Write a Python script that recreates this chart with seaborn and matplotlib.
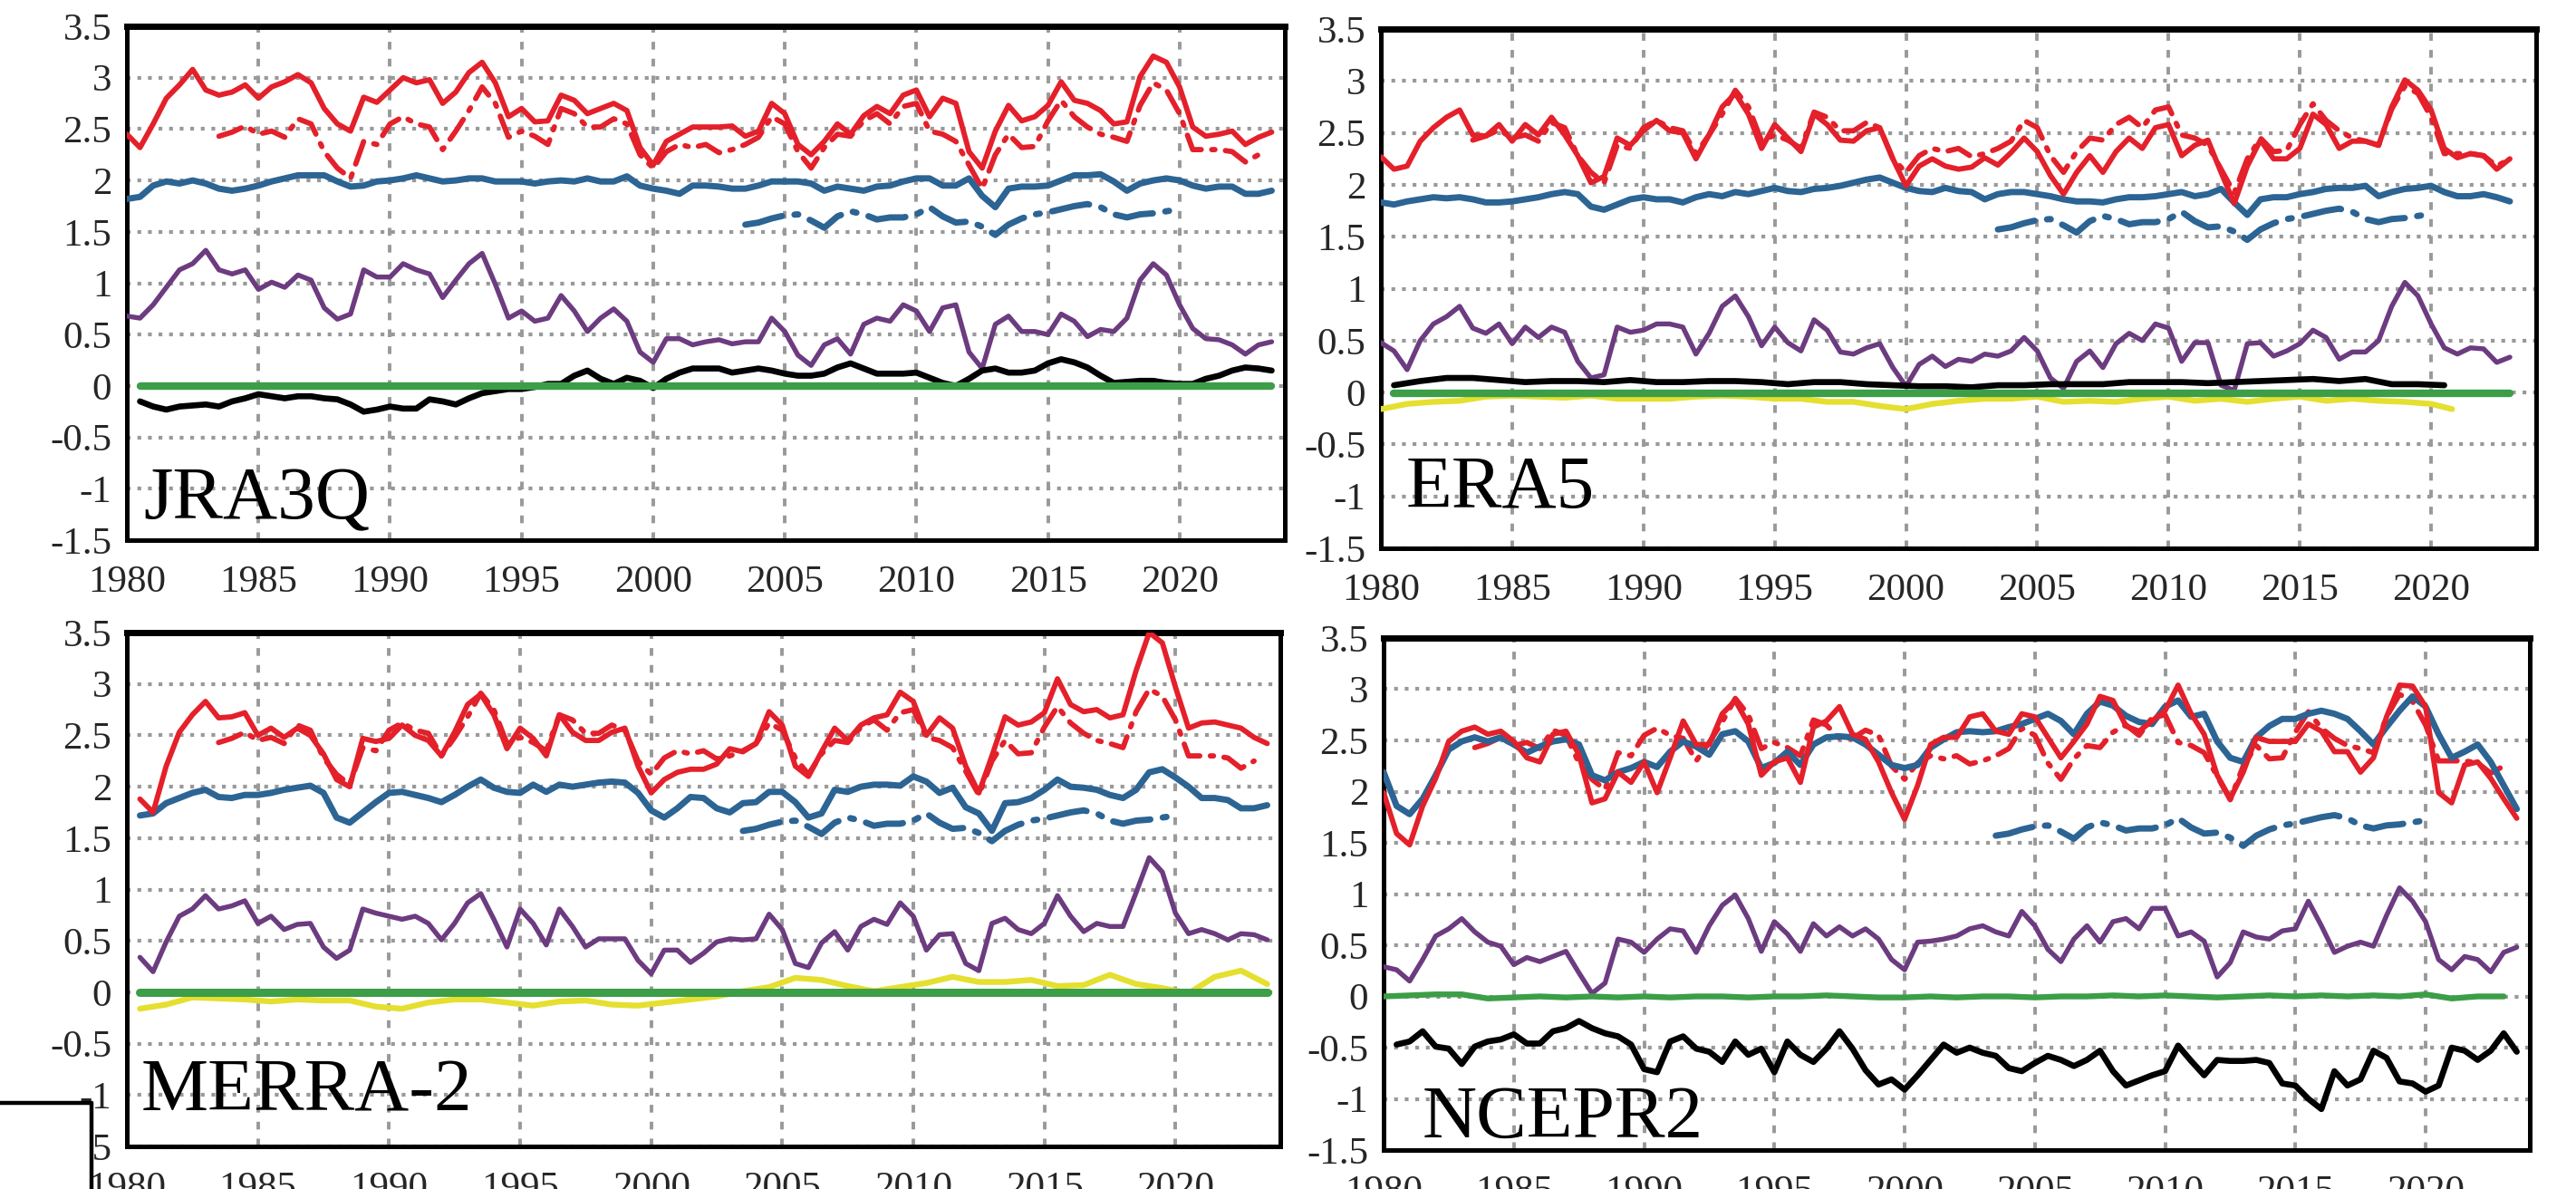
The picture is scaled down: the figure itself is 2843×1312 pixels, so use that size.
import numpy as np
import matplotlib
matplotlib.use("Agg")
import matplotlib.pyplot as plt
import seaborn as sns
from matplotlib.lines import Line2D
from matplotlib.patches import Rectangle

# ---------------------------------------------------------------- data
panel_names = ["JRA3Q", "ERA5", "MERRA-2", "NCEPR2"]
x_ticks = [1980, 1985, 1990, 1995, 2000, 2005, 2010, 2015, 2020]
y_ticks = [-1.5, -1, -0.5, 0, 0.5, 1, 1.5, 2, 2.5, 3, 3.5]

# shared observational references (half-yearly samples)
obs_red_start = 1983.5
obs_red = [2.43, 2.47, 2.53, 2.45, 2.48, 2.42, 2.60, 2.55, 2.28, 2.12,
           2.02, 2.38, 2.35, 2.55, 2.62, 2.55, 2.52, 2.30, 2.48, 2.68,
           2.91, 2.75, 2.42, 2.48, 2.43, 2.35, 2.70, 2.65, 2.52, 2.52,
           2.60, 2.55, 2.25, 2.12, 2.28, 2.35, 2.32, 2.35, 2.27, 2.30,
           2.35, 2.42, 2.62, 2.55, 2.28, 2.12, 2.32, 2.45, 2.43, 2.58,
           2.65, 2.55, 2.72, 2.75, 2.48, 2.45, 2.38, 2.15, 1.92, 2.25,
           2.45, 2.32, 2.33, 2.58, 2.78, 2.62, 2.52, 2.45, 2.42, 2.38,
           2.73, 2.95, 2.88, 2.65, 2.30, 2.30, 2.30, 2.28, 2.18, 2.25]
obs_blue_start = 2003.5
obs_blue = [1.57, 1.59, 1.63, 1.66, 1.67, 1.61, 1.54, 1.65, 1.70, 1.67,
            1.62, 1.64, 1.64, 1.67, 1.74, 1.65, 1.59, 1.60, 1.55, 1.47,
            1.57, 1.63, 1.67, 1.69, 1.72, 1.75, 1.77, 1.74, 1.67, 1.64,
            1.67, 1.68, 1.70, 1.72]

# ---- JRA3Q (half-yearly)
jra_start = 1980.0
jra_red = [2.45, 2.32, 2.55, 2.80, 2.93, 3.08, 2.88, 2.83, 2.86, 2.93,
           2.80, 2.91, 2.96, 3.03, 2.95, 2.70, 2.55, 2.48, 2.81, 2.76,
           2.88, 3.00, 2.95, 2.98, 2.75, 2.86, 3.05, 3.15, 2.95, 2.62,
           2.70, 2.57, 2.58, 2.83, 2.78, 2.65, 2.70, 2.75, 2.68, 2.32,
           2.15, 2.38, 2.45, 2.52, 2.52, 2.52, 2.53, 2.43, 2.48, 2.75,
           2.65, 2.35, 2.25, 2.38, 2.55, 2.45, 2.63, 2.72, 2.65, 2.83,
           2.88, 2.62, 2.80, 2.75, 2.28, 2.12, 2.48, 2.73, 2.58, 2.62,
           2.73, 2.96, 2.78, 2.75, 2.68, 2.55, 2.57, 3.01, 3.21, 3.15,
           2.91, 2.52, 2.43, 2.45, 2.48, 2.35, 2.42, 2.47]
jra_blue = [1.82, 1.84, 1.95, 1.99, 1.97, 2.00, 1.97, 1.92, 1.90, 1.92,
            1.95, 1.99, 2.02, 2.05, 2.05, 2.05, 1.99, 1.94, 1.95, 1.99,
            2.00, 2.02, 2.05, 2.02, 1.99, 2.00, 2.02, 2.02, 1.99, 1.99,
            1.99, 1.97, 1.99, 2.00, 1.99, 2.02, 1.99, 1.99, 2.04, 1.95,
            1.92, 1.90, 1.87, 1.95, 1.95, 1.94, 1.92, 1.92, 1.95, 1.99,
            1.99, 1.99, 1.97, 1.90, 1.94, 1.92, 1.90, 1.94, 1.95, 1.99,
            2.02, 2.02, 1.95, 1.95, 2.02, 1.85, 1.74, 1.92, 1.94, 1.94,
            1.95, 2.00, 2.05, 2.05, 2.06, 1.99, 1.90, 1.97, 2.00, 2.02,
            2.00, 1.95, 1.92, 1.94, 1.94, 1.87, 1.87, 1.90]
jra_purple = [0.68, 0.66, 0.79, 0.96, 1.13, 1.19, 1.32, 1.13, 1.09, 1.13,
              0.94, 1.01, 0.96, 1.08, 1.03, 0.76, 0.65, 0.70, 1.13, 1.06,
              1.06, 1.19, 1.13, 1.09, 0.86, 1.03, 1.19, 1.29, 0.99, 0.66,
              0.73, 0.63, 0.66, 0.88, 0.73, 0.53, 0.66, 0.75, 0.63, 0.33,
              0.23, 0.46, 0.46, 0.40, 0.43, 0.45, 0.41, 0.43, 0.43, 0.66,
              0.53, 0.30, 0.20, 0.40, 0.46, 0.31, 0.60, 0.66, 0.63, 0.79,
              0.73, 0.53, 0.76, 0.79, 0.33, 0.17, 0.60, 0.68, 0.53, 0.53,
              0.50, 0.70, 0.63, 0.48, 0.55, 0.53, 0.66, 1.03, 1.19, 1.08,
              0.79, 0.56, 0.46, 0.45, 0.40, 0.31, 0.40, 0.43]
jra_black_start = 1980.5
jra_black = [-0.15, -0.20, -0.23, -0.20, -0.19, -0.18, -0.20, -0.15, -0.12,
             -0.08, -0.10, -0.12, -0.10, -0.10, -0.12, -0.13, -0.18, -0.25, -0.23,
             -0.20, -0.22, -0.22, -0.13, -0.15, -0.18, -0.12, -0.07, -0.05, -0.03,
             -0.03, -0.01, 0.02, 0.02, 0.10, 0.15, 0.07, 0.02, 0.08, 0.05,
             -0.02, 0.07, 0.13, 0.17, 0.17, 0.17, 0.13, 0.15, 0.17, 0.15,
             0.12, 0.10, 0.10, 0.12, 0.18, 0.22, 0.17, 0.12, 0.12, 0.12,
             0.13, 0.08, 0.03, 0.00, 0.07, 0.15, 0.17, 0.13, 0.13, 0.15,
             0.22, 0.26, 0.23, 0.18, 0.10, 0.03, 0.04, 0.05, 0.05, 0.03,
             0.02, 0.02, 0.07, 0.10, 0.15, 0.18, 0.17, 0.15]
jra_green_years = [1980.5, 1990.0, 2000.0, 2010.0, 2023.5]
jra_green = [0.0, 0.0, 0.0, 0.0, 0.0]

# ---- ERA5 (half-yearly)
era_start = 1980.0
era_red = [2.27, 2.15, 2.18, 2.42, 2.55, 2.65, 2.72, 2.48, 2.47, 2.58,
           2.42, 2.58, 2.48, 2.65, 2.48, 2.28, 2.02, 2.08, 2.45, 2.38,
           2.52, 2.62, 2.52, 2.50, 2.25, 2.48, 2.75, 2.88, 2.68, 2.35,
           2.58, 2.45, 2.32, 2.68, 2.58, 2.43, 2.42, 2.52, 2.55, 2.25,
           1.99, 2.18, 2.25, 2.18, 2.15, 2.17, 2.26, 2.19, 2.31, 2.45,
           2.32, 2.09, 1.91, 2.12, 2.28, 2.12, 2.32, 2.45, 2.35, 2.55,
           2.58, 2.28, 2.38, 2.43, 2.12, 1.82, 2.18, 2.43, 2.25, 2.25,
           2.35, 2.68, 2.58, 2.35, 2.42, 2.42, 2.38, 2.75, 3.01, 2.91,
           2.72, 2.35, 2.26, 2.30, 2.28, 2.15, 2.25]
era_blue = [1.83, 1.81, 1.84, 1.86, 1.88, 1.87, 1.88, 1.86, 1.83, 1.83,
            1.84, 1.86, 1.88, 1.91, 1.93, 1.91, 1.79, 1.76, 1.81, 1.86,
            1.88, 1.86, 1.86, 1.83, 1.88, 1.91, 1.89, 1.93, 1.91, 1.94,
            1.97, 1.94, 1.93, 1.96, 1.97, 1.99, 2.02, 2.05, 2.07, 2.02,
            1.97, 1.94, 1.93, 1.97, 1.94, 1.93, 1.86, 1.91, 1.93, 1.93,
            1.91, 1.89, 1.86, 1.84, 1.84, 1.83, 1.86, 1.88, 1.88, 1.89,
            1.91, 1.93, 1.89, 1.91, 1.96, 1.83, 1.71, 1.86, 1.88, 1.88,
            1.91, 1.93, 1.96, 1.97, 1.97, 1.99, 1.89, 1.93, 1.96, 1.97,
            1.99, 1.93, 1.89, 1.89, 1.91, 1.88, 1.84]
era_purple = [0.48, 0.40, 0.22, 0.50, 0.66, 0.73, 0.83, 0.62, 0.57, 0.66,
              0.47, 0.63, 0.53, 0.63, 0.58, 0.30, 0.14, 0.17, 0.63, 0.58,
              0.60, 0.66, 0.66, 0.63, 0.37, 0.57, 0.83, 0.93, 0.73, 0.45,
              0.63, 0.48, 0.40, 0.70, 0.60, 0.39, 0.37, 0.43, 0.47, 0.24,
              0.06, 0.27, 0.35, 0.25, 0.32, 0.30, 0.37, 0.35, 0.40, 0.53,
              0.40, 0.14, 0.04, 0.30, 0.40, 0.24, 0.47, 0.57, 0.50, 0.66,
              0.62, 0.30, 0.48, 0.48, 0.07, 0.02, 0.47, 0.48, 0.35, 0.40,
              0.47, 0.60, 0.53, 0.32, 0.39, 0.39, 0.50, 0.83, 1.06, 0.93,
              0.66, 0.43, 0.37, 0.43, 0.42, 0.29, 0.34]
era_black_start = 1980.5          # yearly
era_black = [0.07, 0.11, 0.14, 0.14, 0.12, 0.10, 0.11, 0.11, 0.10, 0.12,
             0.10, 0.10, 0.11, 0.11, 0.10, 0.08, 0.10, 0.10, 0.08, 0.07,
             0.06, 0.06, 0.05, 0.07, 0.07, 0.08, 0.08, 0.08, 0.10, 0.10,
             0.10, 0.09, 0.10, 0.11, 0.12, 0.13, 0.11, 0.13, 0.08, 0.08,
             0.07]
era_yellow_years = [1980, 1981, 1982, 1983, 1984, 1985, 1986, 1987, 1988, 1989,
                    1990, 1991, 1992, 1993, 1994, 1995, 1996, 1997, 1998, 1999,
                    2000, 2001, 2002, 2003, 2004, 2005, 2006, 2007, 2008, 2009,
                    2010, 2011, 2012, 2013, 2014, 2015, 2016, 2017, 2018, 2019,
                    2020, 2020.8]
era_yellow = [-0.16, -0.11, -0.09, -0.08, -0.04, -0.03, -0.04, -0.05, -0.03, -0.06,
              -0.06, -0.06, -0.04, -0.03, -0.04, -0.06, -0.06, -0.09, -0.09, -0.13,
              -0.16, -0.11, -0.08, -0.06, -0.06, -0.04, -0.09, -0.08, -0.09, -0.06,
              -0.04, -0.08, -0.06, -0.09, -0.06, -0.04, -0.08, -0.06, -0.08, -0.09,
              -0.11, -0.16]
era_green_years = [1980.5, 1990.0, 2000.0, 2010.0, 2023.0]
era_green = [-0.01, -0.01, -0.01, -0.01, -0.01]

# ---- MERRA-2 (half-yearly)
mer_start = 1980.5
mer_red = [1.88, 1.75, 2.20, 2.53, 2.70, 2.83, 2.67, 2.68, 2.72,
           2.50, 2.57, 2.48, 2.57, 2.50, 2.32, 2.07, 2.00, 2.47, 2.44,
           2.47, 2.60, 2.50, 2.45, 2.30, 2.53, 2.80, 2.90, 2.70, 2.37,
           2.57, 2.47, 2.30, 2.70, 2.53, 2.45, 2.45, 2.53, 2.57, 2.20,
           1.94, 2.07, 2.14, 2.17, 2.17, 2.22, 2.37, 2.34, 2.42, 2.73,
           2.60, 2.20, 2.10, 2.34, 2.57, 2.45, 2.60, 2.67, 2.70, 2.92,
           2.83, 2.50, 2.67, 2.57, 2.20, 1.94, 2.30, 2.68, 2.60, 2.63,
           2.72, 3.05, 2.80, 2.73, 2.75, 2.67, 2.70, 3.13, 3.50, 3.40,
           2.97, 2.57, 2.62, 2.63, 2.60, 2.57, 2.48, 2.42]
mer_blue = [1.72, 1.74, 1.84, 1.89, 1.94, 1.97, 1.90, 1.89, 1.92,
            1.92, 1.94, 1.97, 1.99, 2.01, 1.94, 1.70, 1.65, 1.75, 1.85,
            1.94, 1.95, 1.92, 1.89, 1.85, 1.92, 2.00, 2.07, 1.99, 1.95,
            1.94, 2.02, 1.95, 2.02, 2.00, 2.02, 2.04, 2.05, 2.04, 1.94,
            1.77, 1.70, 1.79, 1.90, 1.89, 1.79, 1.75, 1.84, 1.85, 1.95,
            1.95, 1.85, 1.70, 1.74, 1.97, 1.95, 2.00, 2.02, 2.02, 2.01,
            2.10, 2.05, 1.94, 1.99, 1.80, 1.74, 1.57, 1.84, 1.85, 1.89,
            1.97, 2.07, 2.00, 1.99, 1.97, 1.92, 1.89, 1.97, 2.14, 2.17,
            2.09, 2.00, 1.89, 1.89, 1.87, 1.79, 1.79, 1.82]
mer_purple = [0.34, 0.20, 0.49, 0.74, 0.81, 0.94, 0.81, 0.84, 0.89,
              0.67, 0.74, 0.61, 0.66, 0.67, 0.44, 0.33, 0.41, 0.81, 0.77,
              0.74, 0.71, 0.74, 0.67, 0.51, 0.67, 0.87, 0.96, 0.71, 0.44,
              0.81, 0.67, 0.46, 0.81, 0.64, 0.44, 0.52, 0.52, 0.52, 0.31,
              0.18, 0.41, 0.41, 0.29, 0.38, 0.49, 0.52, 0.51, 0.52, 0.76,
              0.61, 0.28, 0.24, 0.48, 0.59, 0.41, 0.64, 0.71, 0.66, 0.87,
              0.74, 0.41, 0.56, 0.57, 0.28, 0.21, 0.67, 0.72, 0.61, 0.57,
              0.67, 0.94, 0.74, 0.59, 0.67, 0.64, 0.64, 0.97, 1.31, 1.17,
              0.77, 0.57, 0.61, 0.57, 0.51, 0.57, 0.56, 0.51]
mer_yellow_start = 1980.5         # yearly
mer_yellow = [-0.16, -0.12, -0.05, -0.06, -0.07, -0.09, -0.07, -0.08, -0.08, -0.14,
              -0.16, -0.10, -0.07, -0.07, -0.10, -0.13, -0.09, -0.08, -0.12, -0.13,
              -0.10, -0.07, -0.04, 0.01, 0.05, 0.14, 0.12, 0.06, 0.01, 0.05,
              0.09, 0.15, 0.10, 0.10, 0.12, 0.06, 0.07, 0.17, 0.08, 0.04,
              -0.01, 0.15, 0.21, 0.08]
mer_black_years = [1980.5, 1990.0, 2000.0, 2010.0, 2023.5]
mer_black = [0.0, 0.0, 0.0, 0.0, 0.0]
mer_green_years = [1980.5, 1990.0, 2000.0, 2010.0, 2023.5]
mer_green = [0.0, 0.0, 0.0, 0.0, 0.0]

# ---- NCEPR2 (half-yearly)
ncep_start = 1980.0
ncep_red = [1.99, 1.59, 1.48, 1.86, 2.13, 2.49, 2.59, 2.63, 2.56, 2.59,
            2.49, 2.33, 2.29, 2.56, 2.59, 2.36, 1.89, 1.93, 2.19, 2.09,
            2.29, 1.99, 2.33, 2.69, 2.46, 2.46, 2.76, 2.89, 2.66, 2.16,
            2.29, 2.33, 2.09, 2.63, 2.69, 2.83, 2.56, 2.51, 2.29, 1.99,
            1.73, 2.06, 2.46, 2.53, 2.53, 2.73, 2.76, 2.59, 2.56, 2.76,
            2.73, 2.53, 2.33, 2.49, 2.66, 2.93, 2.89, 2.64, 2.59, 2.69,
            2.79, 3.04, 2.76, 2.56, 2.16, 1.93, 2.19, 2.53, 2.49, 2.49,
            2.49, 2.66, 2.59, 2.39, 2.39, 2.19, 2.33, 2.73, 3.04, 3.03,
            2.83, 1.99, 1.89, 2.26, 2.29, 2.13, 1.93, 1.74]
ncep_blue = [2.19, 1.86, 1.78, 1.93, 2.16, 2.41, 2.49, 2.53, 2.49, 2.53,
             2.46, 2.38, 2.44, 2.49, 2.51, 2.46, 2.16, 2.11, 2.19, 2.23,
             2.29, 2.24, 2.39, 2.49, 2.44, 2.36, 2.56, 2.59, 2.49, 2.23,
             2.28, 2.39, 2.26, 2.46, 2.53, 2.54, 2.53, 2.46, 2.36, 2.26,
             2.23, 2.26, 2.43, 2.51, 2.58, 2.59, 2.58, 2.59, 2.63, 2.66,
             2.71, 2.76, 2.69, 2.56, 2.76, 2.88, 2.84, 2.74, 2.68, 2.66,
             2.83, 2.89, 2.73, 2.76, 2.49, 2.33, 2.29, 2.53, 2.64, 2.71,
             2.71, 2.76, 2.79, 2.76, 2.71, 2.59, 2.46, 2.63, 2.79, 2.93,
             2.83, 2.56, 2.33, 2.39, 2.46, 2.29, 2.06, 1.83]
ncep_purple = [0.29, 0.26, 0.15, 0.36, 0.59, 0.66, 0.76, 0.63, 0.53, 0.49,
               0.31, 0.38, 0.34, 0.39, 0.44, 0.23, 0.03, 0.13, 0.56, 0.53,
               0.43, 0.56, 0.66, 0.64, 0.43, 0.69, 0.89, 0.99, 0.76, 0.44,
               0.73, 0.61, 0.44, 0.71, 0.59, 0.68, 0.59, 0.66, 0.56, 0.36,
               0.26, 0.53, 0.54, 0.56, 0.59, 0.66, 0.69, 0.63, 0.59, 0.83,
               0.69, 0.46, 0.34, 0.56, 0.69, 0.53, 0.73, 0.76, 0.66, 0.86,
               0.86, 0.59, 0.63, 0.54, 0.19, 0.33, 0.63, 0.58, 0.56, 0.64,
               0.66, 0.93, 0.69, 0.43, 0.49, 0.53, 0.49, 0.79, 1.06, 0.93,
               0.73, 0.36, 0.26, 0.39, 0.36, 0.24, 0.43, 0.48]
ncep_black_start = 1980.5
ncep_black = [-0.47, -0.44, -0.34, -0.49, -0.51, -0.66, -0.49, -0.44, -0.42,
              -0.37, -0.46, -0.46, -0.34, -0.31, -0.24, -0.31, -0.36, -0.39, -0.47,
              -0.71, -0.74, -0.44, -0.39, -0.51, -0.54, -0.64, -0.44, -0.57, -0.51,
              -0.74, -0.44, -0.57, -0.64, -0.51, -0.34, -0.51, -0.72, -0.86, -0.81,
              -0.91, -0.77, -0.62, -0.47, -0.55, -0.50, -0.55, -0.58, -0.70, -0.73,
              -0.65, -0.58, -0.62, -0.68, -0.62, -0.53, -0.73, -0.87, -0.82, -0.77,
              -0.73, -0.48, -0.63, -0.77, -0.62, -0.63, -0.63, -0.62, -0.65, -0.85,
              -0.87, -1.00, -1.10, -0.73, -0.87, -0.81, -0.53, -0.60, -0.83, -0.85,
              -0.93, -0.87, -0.50, -0.53, -0.62, -0.53, -0.36, -0.54]
ncep_green_start = 1980.0         # yearly
ncep_green = [0.00, 0.01, 0.02, 0.02, -0.02, -0.01, 0.00, -0.01, 0.00, -0.01,
              0.00, -0.01, 0.00, 0.00, -0.01, 0.00, 0.00, 0.01, 0.00, -0.01,
              -0.01, 0.00, -0.01, 0.00, 0.00, -0.01, 0.00, 0.00, 0.01, 0.00,
              0.01, 0.00, -0.01, 0.00, 0.01, 0.00, 0.01, 0.00, 0.01, 0.00,
              0.02, -0.02, 0.00, 0.00]


def half_years(start, vals):
    return start + 0.5 * np.arange(len(vals))


def yearly(start, vals):
    return start + 1.0 * np.arange(len(vals))


# ---------------------------------------------------------------- styles
RED = "#e4202a"
BLUE = "#2c6494"
PURPLE = "#6c3b80"
GREEN = "#3c9e47"
YELLOW = "#e5df2f"
GRIDC = "#999999"

LW_RED, LW_BLUE, LW_PURPLE, LW_BLACK, LW_YEL = 4.2, 5.0, 3.9, 4.8, 4.6

sns.set_theme(style="white")
plt.rcParams["font.family"] = ["Liberation Serif", "DejaVu Serif"]
plt.rcParams["axes.unicode_minus"] = False

fig = plt.figure(figsize=(28.43, 13.12), dpi=100)
W, H = 2843.0, 1312.0
boxes = [(140, 29, 1418, 596), (1524, 32, 2799, 605),
         (140, 698, 1413, 1265), (1527, 704, 2792, 1269)]
label_pos = [(0.014, 0.042), (0.022, 0.079), (0.0126, 0.069), (0.034, 0.025)]


def line(ax, x, y, color, lw, ls="-", z=3):
    sns.lineplot(x=np.asarray(x, dtype=float), y=np.asarray(y, dtype=float),
                 ax=ax, color=color, linewidth=lw, linestyle=ls, zorder=z,
                 errorbar=None, sort=False, legend=False,
                 dash_capstyle="round", solid_capstyle="round",
                 solid_joinstyle="round")


axes = []
for (x0, y0, x1, y1) in boxes:
    ax = fig.add_axes([x0 / W, 1 - y1 / H, (x1 - x0) / W, (y1 - y0) / H])
    axes.append(ax)

obs_red_x = half_years(obs_red_start, obs_red)
obs_blue_x = half_years(obs_blue_start, obs_blue)
red_ls = (0, (4.5, 2, 0.6, 2))
blue_ls = (0, (6, 2, 0.6, 2))

# JRA3Q
ax = axes[0]
line(ax, obs_blue_x, obs_blue, BLUE, LW_BLUE, blue_ls, 2)
line(ax, obs_red_x, obs_red, RED, LW_RED, red_ls, 2)
line(ax, half_years(jra_start, jra_blue), jra_blue, BLUE, LW_BLUE, z=3)
line(ax, half_years(jra_start, jra_red), jra_red, RED, LW_RED, z=4)
line(ax, half_years(jra_start, jra_purple), jra_purple, PURPLE, LW_PURPLE, z=4)
line(ax, half_years(jra_black_start, jra_black), jra_black, "black", LW_BLACK, z=5)
line(ax, jra_green_years, jra_green, GREEN, 6.0, z=6)

# ERA5
ax = axes[1]
line(ax, obs_blue_x, obs_blue, BLUE, LW_BLUE, blue_ls, 2)
line(ax, obs_red_x, obs_red, RED, LW_RED, red_ls, 2)
line(ax, half_years(era_start, era_blue), era_blue, BLUE, LW_BLUE, z=3)
line(ax, half_years(era_start, era_red), era_red, RED, LW_RED, z=4)
line(ax, half_years(era_start, era_purple), era_purple, PURPLE, LW_PURPLE, z=4)
line(ax, era_yellow_years, era_yellow, YELLOW, LW_YEL, z=5)
line(ax, yearly(era_black_start, era_black), era_black, "black", LW_BLACK, z=5)
line(ax, era_green_years, era_green, GREEN, 6.0, z=6)

# MERRA-2
ax = axes[2]
line(ax, obs_blue_x, obs_blue, BLUE, LW_BLUE, blue_ls, 2)
line(ax, obs_red_x, obs_red, RED, LW_RED, red_ls, 2)
line(ax, half_years(mer_start, mer_blue), mer_blue, BLUE, LW_BLUE, z=3)
line(ax, half_years(mer_start, mer_red), mer_red, RED, LW_RED, z=4)
line(ax, half_years(mer_start, mer_purple), mer_purple, PURPLE, LW_PURPLE, z=4)
line(ax, yearly(mer_yellow_start, mer_yellow), mer_yellow, YELLOW, LW_YEL, z=5)
line(ax, mer_black_years, mer_black, "black", LW_BLACK, z=5)
line(ax, mer_green_years, mer_green, GREEN, 6.5, z=6)

# NCEPR2
ax = axes[3]
line(ax, obs_blue_x, obs_blue, BLUE, LW_BLUE, blue_ls, 2)
line(ax, obs_red_x, obs_red, RED, LW_RED, red_ls, 2)
line(ax, half_years(ncep_start, ncep_blue), ncep_blue, BLUE, LW_BLUE, z=3)
line(ax, half_years(ncep_start, ncep_red), ncep_red, RED, LW_RED, z=4)
line(ax, half_years(ncep_start, ncep_purple), ncep_purple, PURPLE, LW_PURPLE, z=4)
line(ax, half_years(ncep_black_start, ncep_black), ncep_black, "black", LW_BLACK, z=5)
line(ax, yearly(ncep_green_start, ncep_green), ncep_green, GREEN, 4.6, z=6)

for ax, name, (lx, ly) in zip(axes, panel_names, label_pos):
    ax.set_xlim(1980, 2024)
    ax.set_ylim(-1.5, 3.5)
    ax.set_xticks(x_ticks)
    ax.set_yticks(y_ticks)
    ax.set_xticklabels([str(v) for v in x_ticks])
    ax.set_yticklabels([f"{v:g}" for v in y_ticks])
    ax.set_xlabel("")
    ax.set_ylabel("")
    ax.set_axisbelow(True)
    ax.grid(axis="x", color=GRIDC, linestyle=(0, (2.2, 2.6)), linewidth=2.8)
    ax.grid(axis="y", color=GRIDC, linestyle=(0, (1, 1.8)), linewidth=3.0)
    ax.tick_params(axis="x", direction="out", length=9, width=4.5,
                   labelsize=31, pad=11, color="black")
    ax.tick_params(axis="y", direction="out", length=8, width=4.5,
                   labelsize=31, pad=4, color="black")
    for s in ax.spines.values():
        s.set_linewidth(3.6)
        s.set_color("black")
    ax.spines["top"].set_linewidth(5.0)
    ax.text(lx, ly, name, transform=ax.transAxes, fontsize=60,
            ha="left", va="baseline", color="black", zorder=10)

# white frame fragment covering the lower-left corner of the cropped figure
fig.add_artist(Rectangle((0, 0), 101 / W, 1 - 1217 / H,
                         transform=fig.transFigure, facecolor="white",
                         edgecolor="none", zorder=5))
fig.add_artist(Line2D([0, 101 / W], [1 - 1217 / H, 1 - 1217 / H],
                      transform=fig.transFigure, color="black", lw=3.2,
                      zorder=6))
fig.add_artist(Line2D([101 / W, 101 / W], [1 - 1217 / H, 0],
                      transform=fig.transFigure, color="black", lw=3.2,
                      zorder=6))

fig.savefig("out.png", dpi=100)
